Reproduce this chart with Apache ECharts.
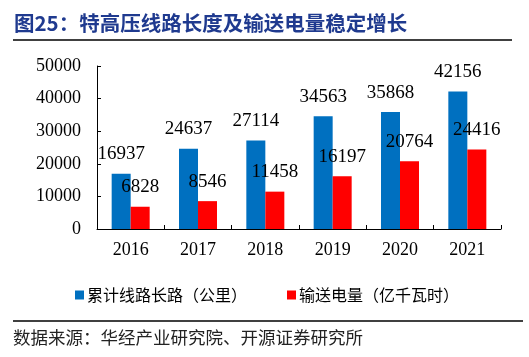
<!DOCTYPE html>
<html><head><meta charset="utf-8">
<script src="https://cdn.jsdelivr.net/npm/echarts@6/dist/echarts.min.js"></script>
<style>html,body{margin:0;padding:0;background:#fff}#c{width:529px;height:357px}</style>
</head><body><div id="c"></div>
<script>
const categories = ['2016','2017','2018','2019','2020','2021'];
const lineLength = [16937,24637,27114,34563,35868,42156];
const transmission = [6828,8546,11458,16197,20764,24416];
const seriesNames = ['累计线路长路（公里）','输送电量（亿千瓦时）'];
const titleText = '图25：特高压线路长度及输送电量稳定增长';
const sourceText = '数据来源：华经产业研究院、开源证券研究所';

const serif = '"Liberation Serif", "Times New Roman", serif';
const cjk = '"Noto Sans CJK SC", sans-serif';
const chart = echarts.init(document.getElementById('c'), null, {renderer:'canvas'});
const labelStyle = {show:true, position:'top', distance:10, color:'#000', fontFamily:serif, fontSize:19};
chart.setOption({
  animation:false,
  backgroundColor:'#fff',
  grid:{left:97, right:28, top:66, bottom:128, containLabel:false},
  legend:{
    data:seriesNames, left:70, top:282, itemWidth:9, itemHeight:9, itemGap:40,
    icon:'rect',
    textStyle:{fontFamily:cjk, fontSize:16, color:'#000', padding:[0,0,0,-2]}
  },
  xAxis:{
    type:'category', data:categories,
    axisLine:{lineStyle:{color:'#000', width:1}},
    axisTick:{show:true, inside:true, length:4, lineStyle:{color:'#000'}},
    axisLabel:{fontFamily:serif, fontSize:18, color:'#000', margin:12}
  },
  yAxis:{
    type:'value', min:0, max:50000, interval:10000,
    axisLine:{show:true, lineStyle:{color:'#000', width:1}},
    axisTick:{show:true, inside:true, length:4, lineStyle:{color:'#000'}},
    splitLine:{show:false},
    axisLabel:{fontFamily:serif, fontSize:18, color:'#000', margin:16, formatter:function(v){return String(v);}}
  },
  series:[
    {name:seriesNames[0], type:'bar', data:lineLength, barWidth:19, barGap:'0%',
     itemStyle:{color:'#0070C0'}, label:labelStyle},
    {name:seriesNames[1], type:'bar', data:transmission, barWidth:19, barGap:'0%',
     itemStyle:{color:'#FF0000'}, label:labelStyle}
  ],
  graphic:[
    {type:'text', left:14, top:13, style:{text:titleText, fontFamily:cjk, fontSize:20.5, fontWeight:'bold', fill:'#1F3A8F'}},
    {type:'line', shape:{x1:13, y1:40, x2:512, y2:40}, style:{stroke:'#000', lineWidth:1.5}},
    {type:'line', shape:{x1:13, y1:321, x2:523, y2:321}, style:{stroke:'#000', lineWidth:1.5}},
    {type:'text', left:13, top:329, style:{text:sourceText, fontFamily:cjk, fontSize:17.5, fill:'#222'}}
  ]
});
</script></body></html>
